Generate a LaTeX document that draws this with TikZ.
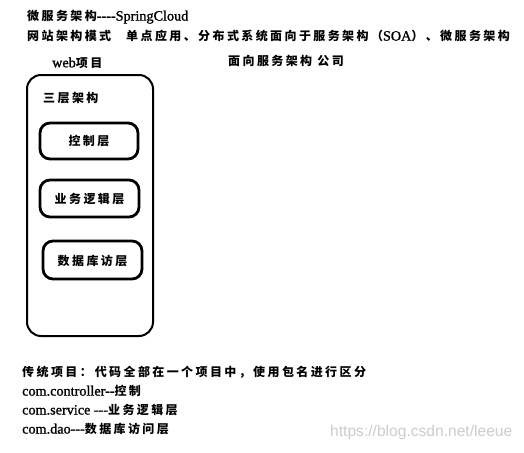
\documentclass[tikz,border=0pt]{standalone}
\usepackage{fontspec}
\setmainfont{Liberation Serif}[Ligatures=TeXOff,UprightFeatures={FakeBold=1.2}]
\newfontfamily\cjk{Noto Sans CJK SC}[LetterSpace=20]
\newfontfamily\wm{Liberation Sans}
\begin{document}
\begin{tikzpicture}[x=1pt,y=-1pt,
  txt/.style={anchor=west,inner sep=0pt,font=\fontsize{14.2}{16}\selectfont},
  outerbox/.style={draw,line width=2pt,rounded corners=14pt},
  layerbox/.style={draw,line width=2.8pt,rounded corners=10pt}
]
\useasboundingbox (0,0) rectangle (524,452);
\newcommand{\cz}[1]{{\fontsize{12}{14}\selectfont\cjk\bfseries #1}}

\node[txt] (t1) at (27,17) {\cz{微服务架构}----SpringCloud};
\node[txt] (t2) at (27,36) {\cz{网站架构模式}\hspace{15pt}\cz{单点应用、分布式系统面向于服务架构（}SOA\cz{）、微服务架构}};
\node[txt] (t3) at (52,63) {web\cz{项目}};
\node[txt] (t4) at (228,61) {\cz{面向服务架构 公司}};

\draw[outerbox] (27,75) rectangle (153,336);
\node[txt] (t5) at (43,98) {\cz{三层架构}};

\draw[layerbox] (40,123) rectangle (138,159);
\node[txt,anchor=center] (l1) at (89,141) {\cz{控制层}};
\draw[layerbox] (40,180) rectangle (139,217);
\node[txt,anchor=center] (l2) at (89.5,199) {\cz{业务逻辑层}};
\draw[layerbox] (43,241) rectangle (142,279);
\node[txt,anchor=center] (l3) at (92.5,261) {\cz{数据库访层}};

\node[txt] (b1) at (22,372) {\cz{传统项目：}\hspace{3pt}\cz{代码全部在一个项目中，使用包名进行区分}};
\node[txt] (b2) at (22,391) {com.controller--\cz{控制}};
\node[txt] (b3) at (22,410) {com.service ---\cz{业务逻辑层}};
\node[txt] (b4) at (22,429) {com.dao---\cz{数据库访问层}};

\node[anchor=west,inner sep=0pt,text=black!20,font=\wm\fontsize{15.6}{18}\selectfont] (wm) at (330,432) {https://blog.csdn.net/leeue};
\end{tikzpicture}
\end{document}
